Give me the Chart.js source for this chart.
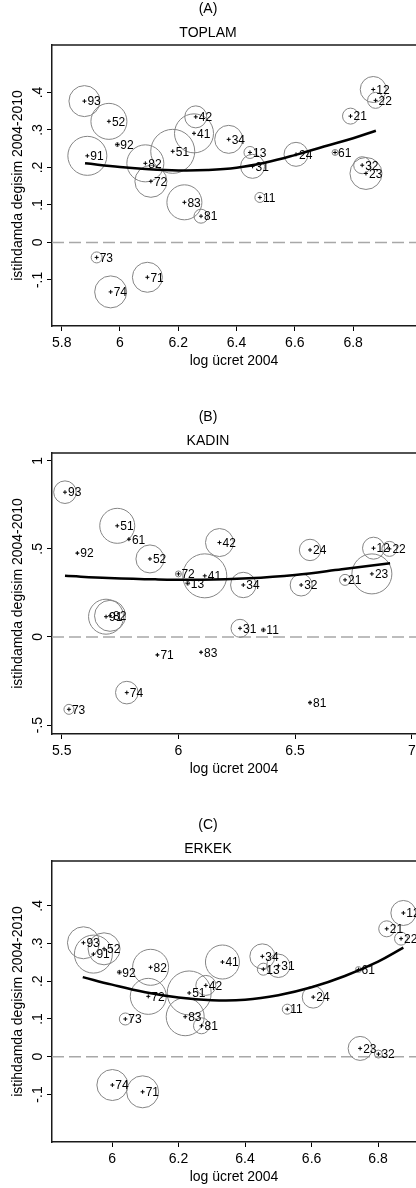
<!DOCTYPE html>
<html>
<head>
<meta charset="utf-8">
<script src="https://cdn.jsdelivr.net/npm/chart.js@4.4.1/dist/chart.umd.min.js"></script>
<style>
  html, body { margin: 0; padding: 0; background: #fff; overflow: hidden; }
  .panel { width: 416px; height: 408px; overflow: hidden; }
  .panel.last { height: 372px; }
  canvas { display: block; }
</style>
</head>
<body>
<div class="panel"><canvas id="chartA" width="416" height="408"></canvas></div>
<div class="panel"><canvas id="chartB" width="416" height="408"></canvas></div>
<div class="panel last"><canvas id="chartC" width="416" height="408"></canvas></div>
<script>
// sector codes, same order in every panel
var codes = ['11','12','13','21','22','23','24','31','32','34','41','42','51','52','61','71','72','73','74','81','82','83','91','92','93'];

// (A) TOPLAM
var xA = [6.480,6.869,6.446,6.791,6.877,6.844,6.604,6.455,6.831,6.373,6.254,6.260,6.181,5.962,6.738,6.094,6.106,5.920,5.968,6.278,6.087,6.221,5.888,5.991,5.878];
var yA = [0.120,0.408,0.240,0.337,0.379,0.184,0.235,0.203,0.206,0.275,0.291,0.335,0.243,0.323,0.240,-0.093,0.163,-0.040,-0.132,0.070,0.211,0.107,0.231,0.261,0.377];
var sizeA = [5,13,6,8,8,16,12,12,8.5,14,19.5,11,22,18,3,15,16,5.5,16,7,18.5,17.5,19.5,2,15.5];
var fitXA = [5.880,6.0,6.1,6.2,6.3,6.4,6.5,6.6,6.7,6.8,6.878];
var fitYA = [0.211,0.201,0.195,0.192,0.193,0.199,0.213,0.233,0.256,0.278,0.298];

// (B) KADIN
var xB = [6.364,6.836,6.040,6.714,6.904,6.829,6.564,6.264,6.526,6.278,6.113,6.176,5.738,5.878,5.788,5.910,6.000,5.531,5.779,6.564,5.707,6.097,5.690,5.567,5.514];
var yB = [0.040,0.504,0.305,0.324,0.500,0.358,0.494,0.049,0.295,0.295,0.347,0.536,0.631,0.443,0.555,-0.102,0.358,-0.411,-0.316,-0.373,0.120,-0.087,0.115,0.476,0.822];
var sizeB = [2,11,2,5.5,7.5,20,10.7,9,11,12.7,22,14,17.5,14,1,1,3,5,11.3,1.5,15.5,1,17.5,1,11.3];
var fitXB = [5.514,5.7,5.9,6.1,6.3,6.5,6.7,6.907];
var fitYB = [0.347,0.335,0.327,0.325,0.333,0.352,0.384,0.419];

// (C) ERKEK
var xC = [6.527,6.876,6.455,6.826,6.869,6.746,6.605,6.500,6.801,6.452,6.332,6.282,6.232,5.976,6.741,6.092,6.109,6.040,6.001,6.269,6.116,6.220,5.944,6.022,5.914];
var yC = [0.126,0.381,0.232,0.339,0.313,0.022,0.158,0.241,0.007,0.266,0.251,0.189,0.169,0.286,0.231,-0.093,0.160,0.100,-0.075,0.082,0.237,0.106,0.272,0.224,0.302];
var sizeC = [5,12.5,6,8,6.5,12,11,11.7,4,12.5,17,10,22,16,3,16,18,6,15.5,8,18,19,19,2,16];
var fitXC = [5.912,6.0,6.1,6.2,6.3,6.4,6.5,6.6,6.7,6.8,6.876];
var fitYC = [0.211,0.191,0.171,0.157,0.150,0.151,0.163,0.184,0.214,0.252,0.289];

var xTicksA = [5.8, 6, 6.2, 6.4, 6.6, 6.8];
var xTicksB = [5.5, 6, 6.5, 7];
var xTicksC = [6, 6.2, 6.4, 6.6, 6.8];
var yTicksA = [-0.1, 0, 0.1, 0.2, 0.3, 0.4];
var yTicksB = [-0.5, 0, 0.5, 1];
var yTicksC = [-0.1, 0, 0.1, 0.2, 0.3, 0.4];

Chart.defaults.font.family = "'Liberation Sans', Arial, sans-serif";
Chart.defaults.font.size = 14;
Chart.defaults.color = '#000';

function stataLabel(v) {
    return String(v).replace('0.', '.');
}

// box top, zero line, rotated y labels, point labels
var panelDecor = {
    id: 'panelDecor',
    beforeDatasetsDraw: function (chart) {
        var ctx = chart.ctx, area = chart.chartArea;
        var y0 = chart.scales.y.getPixelForValue(0);
        ctx.save();
        ctx.strokeStyle = '#a8a8a8';
        ctx.lineWidth = 1.5;
        ctx.setLineDash([12, 5]);
        ctx.beginPath();
        ctx.moveTo(area.left, y0);
        ctx.lineTo(area.right, y0);
        ctx.stroke();
        ctx.restore();
    },
    afterDatasetsDraw: function (chart) {
        var ctx = chart.ctx;
        var meta = chart.getDatasetMeta(1);
        ctx.save();
        ctx.font = "12px 'Liberation Sans', Arial, sans-serif";
        ctx.fillStyle = '#000';
        ctx.textAlign = 'left';
        ctx.textBaseline = 'middle';
        meta.data.forEach(function (pt, i) {
            ctx.fillText(codes[i], pt.x + 3, pt.y + 1);
        });
        ctx.restore();
    },
    afterDraw: function (chart) {
        var ctx = chart.ctx, area = chart.chartArea, ys = chart.scales.y;
        ctx.save();
        ctx.strokeStyle = '#1a1a1a';
        ctx.lineWidth = 1.5;
        ctx.beginPath();
        ctx.moveTo(area.left, area.top);
        ctx.lineTo(area.right, area.top);
        ctx.stroke();
        ctx.font = "14px 'Liberation Sans', Arial, sans-serif";
        ctx.fillStyle = '#000';
        ctx.textAlign = 'center';
        ctx.textBaseline = 'middle';
        ys.ticks.forEach(function (t) {
            var py = ys.getPixelForValue(t.value);
            ctx.save();
            ctx.translate(38, py);
            ctx.rotate(-Math.PI / 2);
            ctx.fillText(stataLabel(t.value), 0, 0);
            ctx.restore();
        });
        ctx.restore();
    }
};

function makePanel(id, title, sub, xs, ys, sizes, fitX, fitY, xRange, yRange, xTicks, yTicks) {
    var bubbles = codes.map(function (c, i) { return { x: xs[i], y: ys[i], r: sizes[i] }; });
    var centres = codes.map(function (c, i) { return { x: xs[i], y: ys[i] }; });
    var fit = fitX.map(function (x, i) { return { x: x, y: fitY[i] }; });

    new Chart(document.getElementById(id), {
        type: 'bubble',
        data: {
            datasets: [{
                type: 'line',
                data: fit,
                borderColor: '#000',
                borderWidth: 2.5,
                pointRadius: 0,
                tension: 0.4,
                fill: false,
                order: 0
            }, {
                type: 'scatter',
                data: centres,
                pointStyle: 'cross',
                pointRadius: 2,
                borderColor: '#000',
                borderWidth: 1,
                order: 1
            }, {
                data: bubbles,
                backgroundColor: 'rgba(0,0,0,0)',
                borderColor: '#858585',
                borderWidth: 1,
                order: 2
            }]
        },
        options: {
            responsive: false,
            animation: false,
            events: [],
            layout: { padding: 0, autoPadding: false },
            plugins: {
                legend: { display: false },
                tooltip: { enabled: false },
                title: {
                    display: true,
                    text: title,
                    font: { size: 14, weight: 'normal' },
                    color: '#000',
                    padding: { top: 1, bottom: 3 }
                },
                subtitle: {
                    display: true,
                    text: sub,
                    font: { size: 14, weight: 'normal' },
                    color: '#000',
                    padding: { top: 3.7, bottom: 3.6 }
                }
            },
            scales: {
                x: {
                    type: 'linear',
                    min: xRange[0],
                    max: xRange[1],
                    afterBuildTicks: function (scale) {
                        scale.ticks = xTicks.map(function (v) { return { value: v }; });
                    },
                    afterFit: function (scale) {
                        scale.height = 82;
                        scale.paddingLeft = 0;
                        scale.paddingRight = 0;
                    },
                    grid: { drawOnChartArea: false, tickLength: 5, color: '#000', lineWidth: 1 },
                    border: { color: '#1a1a1a', width: 1.5 },
                    ticks: {
                        padding: 4,
                        font: { size: 14 },
                        color: '#000',
                        callback: function (v) { return String(v); }
                    },
                    title: {
                        display: true,
                        text: 'log ücret 2004',
                        font: { size: 14 },
                        color: '#000',
                        padding: { top: 0, bottom: 38.6 }
                    }
                },
                y: {
                    type: 'linear',
                    min: yRange[0],
                    max: yRange[1],
                    afterBuildTicks: function (scale) {
                        scale.ticks = yTicks.map(function (v) { return { value: v }; });
                    },
                    afterFit: function (scale) {
                        scale.width = 52;
                        scale.paddingTop = 0;
                        scale.paddingBottom = 0;
                    },
                    grid: { drawOnChartArea: false, tickLength: 5, color: '#000', lineWidth: 1 },
                    border: { color: '#1a1a1a', width: 1.5 },
                    ticks: { display: false },
                    title: {
                        display: true,
                        text: 'istihdamda degisim 2004-2010',
                        font: { size: 14 },
                        color: '#000',
                        padding: { top: 10, bottom: 0 }
                    }
                }
            }
        },
        plugins: [panelDecor]
    });
}

makePanel('chartA', '(A)', 'TOPLAM', xA, yA, sizeA, fitXA, fitYA, [5.7667, 7.0157], [-0.223, 0.527], xTicksA, yTicksA);
makePanel('chartB', '(B)', 'KADIN', xB, yB, sizeB, fitXB, fitYB, [5.4584, 7.018], [-0.551, 1.045], xTicksB, yTicksB);
makePanel('chartC', '(C)', 'ERKEK', xC, yC, sizeC, fitXC, fitYC, [5.8195, 6.914], [-0.226, 0.519], xTicksC, yTicksC);
</script>
</body>
</html>
